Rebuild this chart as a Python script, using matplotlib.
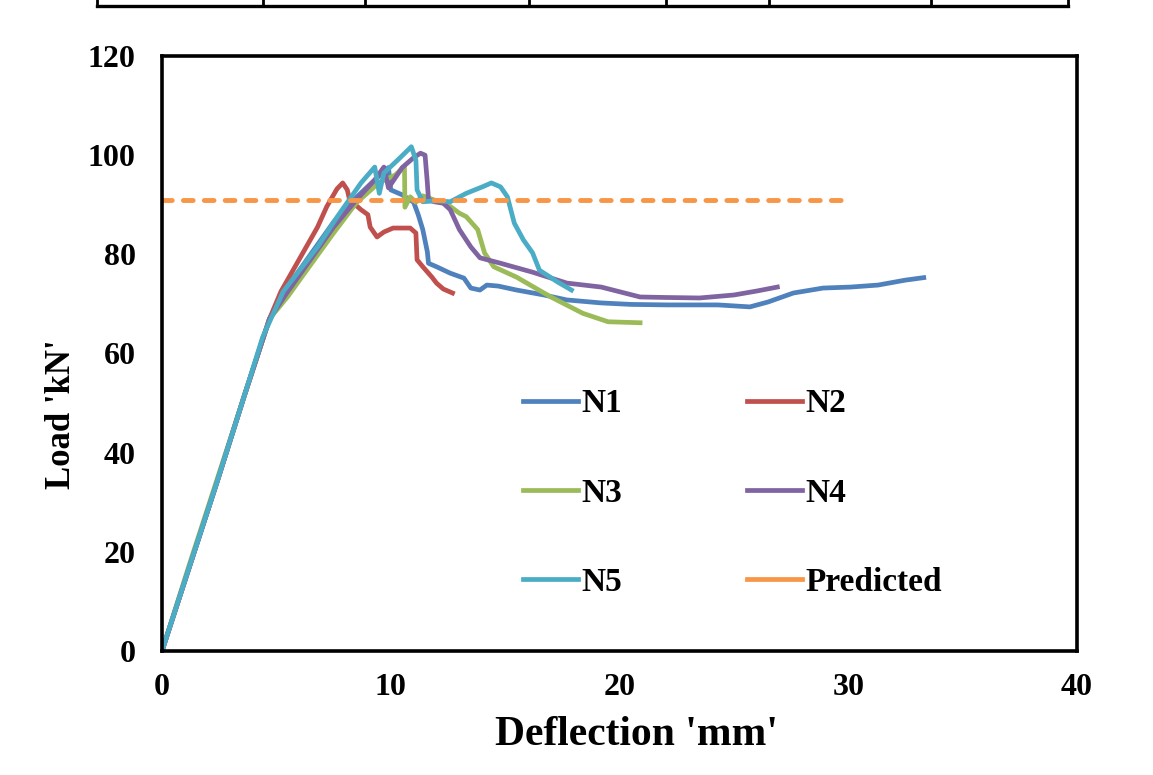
import matplotlib
matplotlib.use("Agg")
import matplotlib.pyplot as plt
from matplotlib.lines import Line2D

# --- data (deflection mm, load kN) ---
n1_x = [0, 1.2, 2.4, 3.6, 4.7, 5.5, 6.5, 7.5, 8.5, 9.3, 9.9, 10.0, 10.5, 11.0, 11.2, 11.4, 11.6, 11.65,
        12.0, 12.6, 13.2, 13.5, 13.9, 14.2, 14.7, 15.5, 16.7, 17.7, 19.2, 20.5, 22.1, 24.3, 25.7, 26.5,
        27.6, 28.9, 30.1, 31.3, 32.5, 33.3]
n1_y = [0, 17, 34, 51.5, 67, 73.5, 80, 86.5, 91.5, 95, 97.5, 93, 92, 90.5, 88, 85, 80.5, 78.2,
        77.5, 76.2, 75.2, 73.2, 72.8, 73.8, 73.6, 72.8, 71.8, 70.8, 70.2, 69.9, 69.8, 69.8, 69.4, 70.4,
        72.2, 73.2, 73.4, 73.8, 74.8, 75.3]

n2_x = [0, 1.2, 2.4, 3.6, 4.7, 5.2, 6.0, 6.8, 7.2, 7.65, 7.9, 8.1, 8.2, 8.7, 9.0, 9.1, 9.4, 9.7,
        10.1, 10.85, 11.1, 11.15, 11.4, 11.8, 12.0, 12.3, 12.7]
n2_y = [0, 17, 34, 51.5, 67, 72.5, 79, 85.5, 89.6, 93.2, 94.4, 93, 91, 89, 88, 85.5, 83.5, 84.5,
        85.3, 85.3, 84.3, 78.9, 77.5, 75.4, 74.2, 73, 72.2]

n3_x = [0, 1.2, 2.4, 3.6, 4.7, 5.5, 6.2, 7.5, 8.5, 9.5, 10.2, 10.5, 10.6, 10.62, 10.85, 11.1, 11.4,
        12.0, 12.5, 13.0, 13.3, 13.8, 14.1, 14.5, 15.5, 17.0, 18.4, 19.5, 20.9]
n3_y = [0, 17.5, 34.5, 51.5, 67, 71.5, 76, 84.3, 90.4, 94.5, 96, 97.3, 97.6, 89.5, 91.6, 90.5, 91.8,
        90.8, 90, 88.3, 87.6, 85, 80.3, 77.5, 75.4, 71.4, 68.1, 66.4, 66.2]

n4_x = [0, 1.2, 2.4, 3.6, 4.7, 5.5, 6.5, 7.5, 8.5, 9.3, 9.7, 9.9, 10.5, 11.0, 11.3, 11.5, 11.6, 11.65,
        11.9, 12.3, 12.6, 13.0, 13.5, 13.9, 14.8, 16.2, 17.7, 19.2, 20.9, 22.0, 23.5, 25.0, 26.0, 26.9]
n4_y = [0, 17, 34, 51.5, 67, 72.5, 79, 85.5, 91, 95, 97.6, 93.4, 97.5, 99.5, 100.4, 100, 94.4, 91,
        90.6, 90.3, 89, 85, 81.5, 79.3, 78.2, 76.4, 74.2, 73.4, 71.4, 71.3, 71.2, 71.8, 72.6, 73.4]

n5_x = [0, 1.2, 2.4, 3.6, 4.4, 5.3, 6.8, 7.65, 8.7, 9.3, 9.5, 9.7, 10.3, 10.9, 11.1, 11.15, 11.4,
        12.0, 12.6, 13.3, 14.0, 14.4, 14.8, 15.1, 15.4, 15.8, 16.2, 16.5, 17.3, 17.9]
n5_y = [0, 17, 34, 51.5, 63.3, 72.5, 81.5, 87.5, 94.4, 97.6, 92.3, 96.4, 99, 101.7, 99, 93, 90.6,
        90.8, 90.6, 92.3, 93.6, 94.4, 93.6, 91.6, 86.3, 82.9, 80.3, 76.8, 74.4, 72.8]

pred_x = [0, 30]
pred_y = [91, 91]

labels = ["N1", "N2", "N3", "N4", "N5", "Predicted"]
colors = ["#4F81BD", "#C0504D", "#9BBB59", "#8064A2", "#4BACC6", "#F79646"]

plt.rcParams['font.family'] = ['Liberation Serif', 'DejaVu Serif']
plt.rcParams['font.weight'] = 'bold'

fig = plt.figure(figsize=(11.53, 7.75), dpi=100)
ax = fig.add_axes([162 / 1153, 1 - 651 / 775, 915 / 1153, 595 / 775])

series = [(n1_x, n1_y), (n2_x, n2_y), (n3_x, n3_y), (n4_x, n4_y), (n5_x, n5_y)]
for (xs, ys), lab, col in zip(series, labels[:5], colors[:5]):
    ax.plot(xs, ys, color=col, lw=3.4, label=lab, solid_joinstyle='round')
ax.plot(pred_x, pred_y, color=colors[5], lw=3.5, linestyle=(0, (2.0, 2.3)),
        dash_capstyle='round', label=labels[5])

ax.set_xlim(0, 40)
ax.set_ylim(0, 120)
ax.set_xticks([0, 10, 20, 30, 40])
ax.set_yticks([0, 20, 40, 60, 80, 100, 120])
ax.tick_params(length=0, labelsize=23)
ax.tick_params(axis='y', pad=19)
ax.tick_params(axis='x', pad=16)
for s in ax.spines.values():
    s.set_linewidth(2.6)

ax.set_xlabel("Deflection 'mm'", fontsize=30, fontweight='bold')
ax.set_ylabel("Load 'kN'", fontsize=25, fontweight='bold')
ax.xaxis.set_label_coords(0.519, -0.11)
ax.yaxis.set_label_coords(-0.092, 0.398)

# legend: 2 columns, row-wise order N1 N2 / N3 N4 / N5 Predicted
order = [0, 2, 4, 1, 3, 5]
leg_handles = [Line2D([0], [0], color=colors[i], lw=3.4) for i in order]
ax.legend(leg_handles, [labels[i] for i in order], ncol=2, frameon=False,
          loc='center left', bbox_to_anchor=(0.376, 0.265), borderpad=0,
          fontsize=24, handlelength=1.65, handletextpad=0.1,
          columnspacing=3.75, labelspacing=1.75)

# table border remnant at the top of the page
xs_tab = [97, 263, 365, 529, 666, 769, 931, 1068]
fig.add_artist(Line2D([97 / 1153, 1068 / 1153], [1 - 6 / 775, 1 - 6 / 775], color='black', lw=2.4))
for xp in xs_tab:
    fig.add_artist(Line2D([xp / 1153, xp / 1153], [1 - 6 / 775, 1.0], color='black', lw=2.0))

fig.savefig("out.png", dpi=100)
